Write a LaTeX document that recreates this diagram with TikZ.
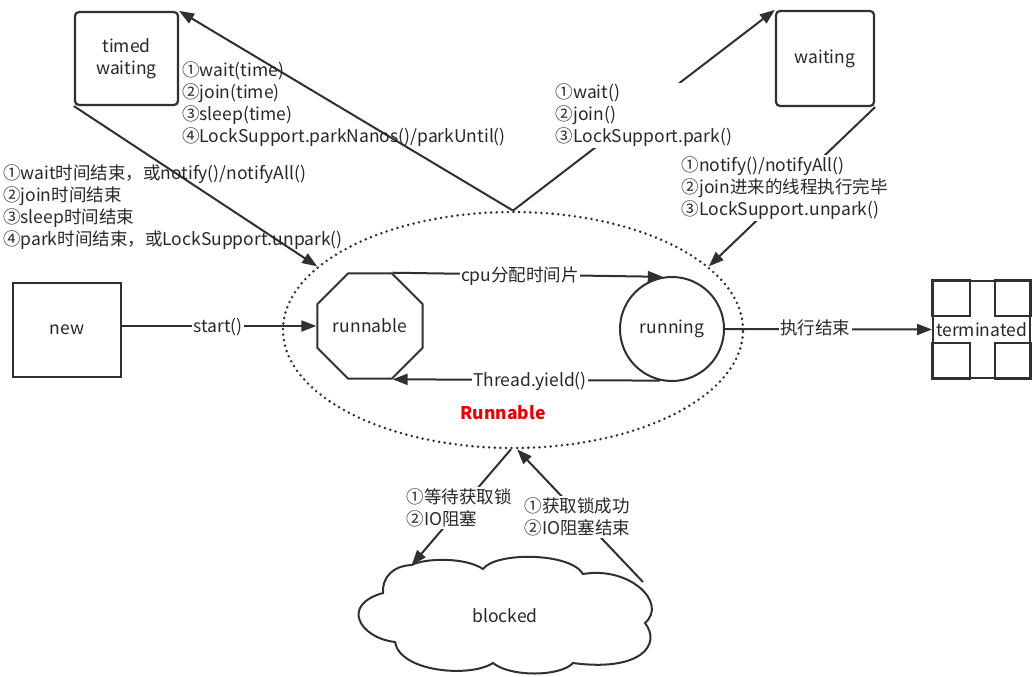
\documentclass[tikz,border=0pt]{standalone}
\usepackage{fontspec}
\setmainfont{Noto Sans CJK SC}
\usetikzlibrary{arrows.meta,shapes.geometric}
\definecolor{lc}{RGB}{48,48,48}
\definecolor{tc}{RGB}{40,40,40}
\definecolor{rd}{RGB}{230,0,0}
\newcommand\lblsize{\fontsize{17.5pt}{22pt}\selectfont}
\begin{document}
\begin{tikzpicture}[x=1pt,y=-1pt,
  ln/.style={draw=lc, line width=2pt},
  arr/.style={ln, -{Triangle[length=15pt,width=11pt]}},
  box/.style={draw=lc, line width=2.2pt, inner sep=0pt, align=center, font=\lblsize, text=tc},
  lbl/.style={align=left, inner sep=0pt, font=\lblsize, text=tc, anchor=west},
  wlbl/.style={lbl, fill=white, inner sep=1.5pt},
  clbl/.style={fill=white, inner sep=1.5pt, font=\lblsize, text=tc}]
\useasboundingbox[fill=white] (0,0) rectangle (1036,677);
% group ellipse
\node[ellipse, draw=lc, line width=2.8pt, line cap=round, dash pattern=on 0pt off 5.6pt,
      minimum width=460pt, minimum height=236pt, inner sep=0pt] (grp) at (513,330) {};
% states
\node[box, rounded corners=4pt, minimum width=103pt, minimum height=93pt] (tw) at (126.5,58.5) {timed\\waiting};
\node[box, rounded corners=4pt, minimum width=98pt, minimum height=95pt] (w) at (825,58.5) {waiting};
\node[box, line width=2pt, minimum width=108pt, minimum height=94pt] (new) at (67,330) {new};
\node[box, line width=2pt, regular polygon, regular polygon sides=8, minimum size=114pt] (rn) at (370,326) {runnable};
\node[box, line width=2pt, circle, minimum size=104pt] (ru) at (672,329) {running};
\node[box, line width=2pt, minimum width=97pt, minimum height=97pt] (term) at (981.5,329.5) {};
\draw[ln] (term.north west) rectangle ++(38,36);
\draw[ln] (term.north east) rectangle ++(-36,36);
\draw[ln] (term.south west) rectangle ++(38,-36);
\draw[ln] (term.south east) rectangle ++(-36,-36);
\node[font=\lblsize, text=tc, inner sep=0pt] (termtxt) at (term.center) {terminated};
% cloud
\draw[ln, fill=white] (411.7,565)
  .. controls (425,558) and (465,557) .. (483,569)
  .. controls (495,552) and (570,552) .. (583,574)
  .. controls (630,566) and (668,603) .. (645,623)
  .. controls (662,645) and (640,672) .. (573,663)
  .. controls (560,677) and (510,677) .. (493,663)
  .. controls (470,678) and (400,672) .. (395,642)
  .. controls (360,638) and (340,605) .. (383,593)
  .. controls (382,578) and (392,566) .. cycle;
\coordinate (blin) at (411.7,565);
\coordinate (blout) at (643,582);
\node[font=\lblsize, text=tc, inner sep=0pt] (bl) at (505,616) {blocked};
% connectors
\draw[arr] (grp.north) -- (tw.north east);
\draw[arr] (grp.north) -- (w.north west);
\draw[arr] (tw.south west) -- (grp.162);
\draw[arr] (w.south east) -- (grp.18);
\draw[arr] (rn.west -| new.east) -- (rn.west);
\draw[arr] (rn.67.5) -- (ru.100);
\draw[arr] (ru.-103) -- (rn.-67.5);
\draw[arr] (ru.east) -- (term.west);
\draw[arr] (grp.-91) -- (blin);
\draw[arr] (blout) -- (grp.-88);
% labels
\node[lbl] (l1) at (182,104.5) {①wait(time)\\②join(time)\\③sleep(time)\\④LockSupport.parkNanos()/parkUntil()};
\node[lbl] (l2) at (3,207) {①wait时间结束，或notify()/notifyAll()\\②join时间结束\\③sleep时间结束\\④park时间结束，或LockSupport.unpark()};
\node[wlbl] (l3) at (554,115.5) {①wait()\\②join()\\③LockSupport.park()};
\node[wlbl] (l4) at (680,188) {①notify()/notifyAll()\\②join进来的线程执行完毕\\③LockSupport.unpark()};
\node[wlbl] (l5) at (405,508) {①等待获取锁\\②IO阻塞};
\node[wlbl] (l6) at (523,517) {①获取锁成功\\②IO阻塞结束};
\node[clbl] (l7) at (218,327) {start()};
\node[clbl] (l8) at (520,276) {cpu分配时间片};
\node[clbl] (l9) at (530,381) {Thread.yield()};
\node[clbl] (l10) at (815,328) {执行结束};
\node[font=\lblsize\bfseries, text=rd, inner sep=0pt] (grpname) at (503,413) {Runnable};
\end{tikzpicture}
\end{document}
